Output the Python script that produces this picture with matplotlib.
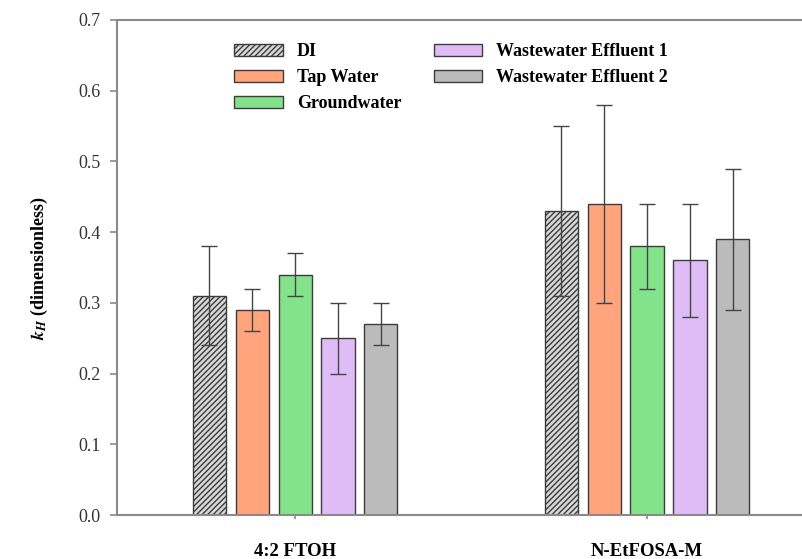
import numpy as np
import matplotlib
matplotlib.use('Agg')
import matplotlib.pyplot as plt

plt.rcParams['font.family'] = ['Liberation Serif', 'DejaVu Serif']
plt.rcParams['mathtext.fontset'] = 'stix'
plt.rcParams['hatch.color'] = '#444444'
plt.rcParams['hatch.linewidth'] = 1.0

# ---------------------------------------------------------------------------
# Data
# ---------------------------------------------------------------------------
compounds = ['4:2 FTOH', 'N-EtFOSA-M']
matrices = ['DI', 'Tap Water', 'Groundwater',
            'Wastewater Effluent 1', 'Wastewater Effluent 2']

kh_di = [0.31, 0.43]
kh_tap = [0.29, 0.44]
kh_ground = [0.34, 0.38]
kh_ww1 = [0.25, 0.36]
kh_ww2 = [0.27, 0.39]

err_di = [0.07, 0.12]
err_tap = [0.03, 0.14]
err_ground = [0.03, 0.06]
err_ww1 = [0.05, 0.08]
err_ww2 = [0.03, 0.10]

values = [kh_di, kh_tap, kh_ground, kh_ww1, kh_ww2]
errors = [err_di, err_tap, err_ground, err_ww1, err_ww2]
colors = ['#d8d8d8', '#ffa47c', '#84e28a', '#dfbcf6', '#bbbbbb']
hatches = ['//////', None, None, None, None]

edge = '#3c3c3c'
spine = '#8a8a8a'

fig = plt.figure(figsize=(8.02, 5.59), dpi=100)
# axes frame runs past the right edge of the picture, as in the reference
ax = fig.add_axes([117 / 802, 44 / 559, 725 / 802, 495 / 559])

x = np.arange(len(compounds))
pitch = 0.122
width = 0.094

for i, (name, vals, errs) in enumerate(zip(matrices, values, errors)):
    pos = x + (i - 2) * pitch
    ax.bar(pos, vals, width, color=colors[i], edgecolor=edge, linewidth=1.0,
           hatch=hatches[i], label=name, zorder=2)
    ax.errorbar(pos, vals, yerr=errs, fmt='none', ecolor='#444444',
                elinewidth=1.0, capsize=5.5, capthick=1.0, zorder=3)

ax.set_xlim(-0.506, 1.554)
ax.set_ylim(0, 0.7)
ax.set_yticks(np.arange(0, 0.71, 0.1))
ax.set_yticklabels([f'{v:.1f}' for v in np.arange(0, 0.71, 0.1)])
ax.set_xticks(x)
ax.set_xticklabels(compounds, fontweight='bold', fontsize=13.5)

for s in ['top', 'bottom', 'left']:
    ax.spines[s].set_color(spine)
    ax.spines[s].set_linewidth(1.5)
ax.spines['right'].set_visible(False)

ax.tick_params(axis='y', direction='out', length=5, width=1.2, color=spine,
               labelsize=13, labelcolor='#333333', pad=7)
ax.tick_params(axis='x', direction='out', length=3, width=1.2, color=spine,
               pad=17)

ax.set_ylabel(r'$\mathbfit{k}_{\mathbfit{H}}$ (dimensionless)',
              fontweight='bold', fontsize=13, labelpad=20)

ax.legend(ncol=2, loc='upper left', bbox_to_anchor=(0.152, 0.968),
          frameon=False, prop={'weight': 'bold', 'size': 13},
          handlelength=2.7, handleheight=0.67, handletextpad=0.75,
          columnspacing=1.8, labelspacing=0.5, borderaxespad=0)

fig.savefig('out.png', dpi=100)
